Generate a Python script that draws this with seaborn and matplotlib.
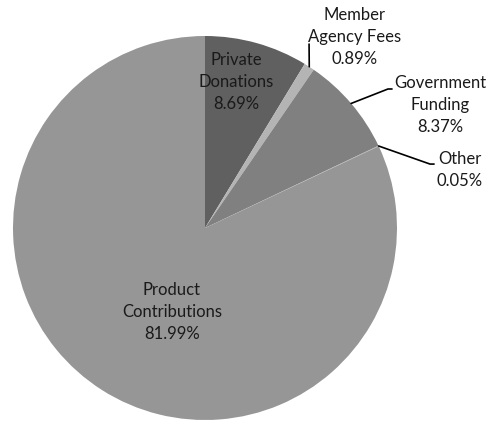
import numpy as np
import matplotlib
matplotlib.use("Agg")
import matplotlib.pyplot as plt
import seaborn as sns

labels = ["Private\nDonations", "Member\nAgency Fees", "Government\nFunding", "Other", "Product\nContributions"]
values = [8.69, 0.89, 8.37, 0.05, 81.99]
pct_text = ["8.69%", "0.89%", "8.37%", "0.05%", "81.99%"]
colors = ["#606060", "#b4b4b4", "#808080", "#a6a6a6", "#969696"]

sns.set_theme(style="white")
plt.rcParams['font.family'] = ['Lato', 'DejaVu Sans']

fig = plt.figure(figsize=(5.03, 4.21), dpi=100)
ax = fig.add_axes([13/503, 1/421, 384/503, 384/421])
wedges, _ = ax.pie(values, colors=colors, startangle=90, counterclock=False,
                   radius=1.0, wedgeprops=dict(linewidth=0))
ax.set_xlim(-1, 1)
ax.set_ylim(-1, 1)
ax.set_aspect('equal')
ax.axis('off')

fs = 12
ls = 1.45
# label positions (data coords)
inside = {0: (0.161, 0.76), 4: (-0.172, -0.437)}
outside = {1: (0.781, 0.995), 2: (1.224, 0.641), 3: (1.328, 0.302)}
elbows = {1: [(0.542, 0.958)], 2: [(0.953, 0.724), (0.974, 0.724)], 3: [(1.172, 0.333), (1.193, 0.333)]}

for i, w in enumerate(wedges):
    txt = labels[i] + "\n" + pct_text[i]
    if i in inside:
        x, y = inside[i]
        ax.text(x, y, txt, ha='center', va='center', fontsize=fs, linespacing=ls, color='#1a1a1a')
    else:
        ang = np.deg2rad((w.theta1 + w.theta2) / 2)
        r = 1.0
        sx, sy = r * np.cos(ang), r * np.sin(ang)
        pts = [(sx, sy)] + elbows[i]
        xs, ys = zip(*pts)
        ax.plot(xs, ys, color='black', lw=1.2, clip_on=False)
        x, y = outside[i]
        ax.text(x, y, txt, ha='center', va='center', fontsize=fs, linespacing=ls, color='#1a1a1a')

fig.savefig("out.png", dpi=100)
